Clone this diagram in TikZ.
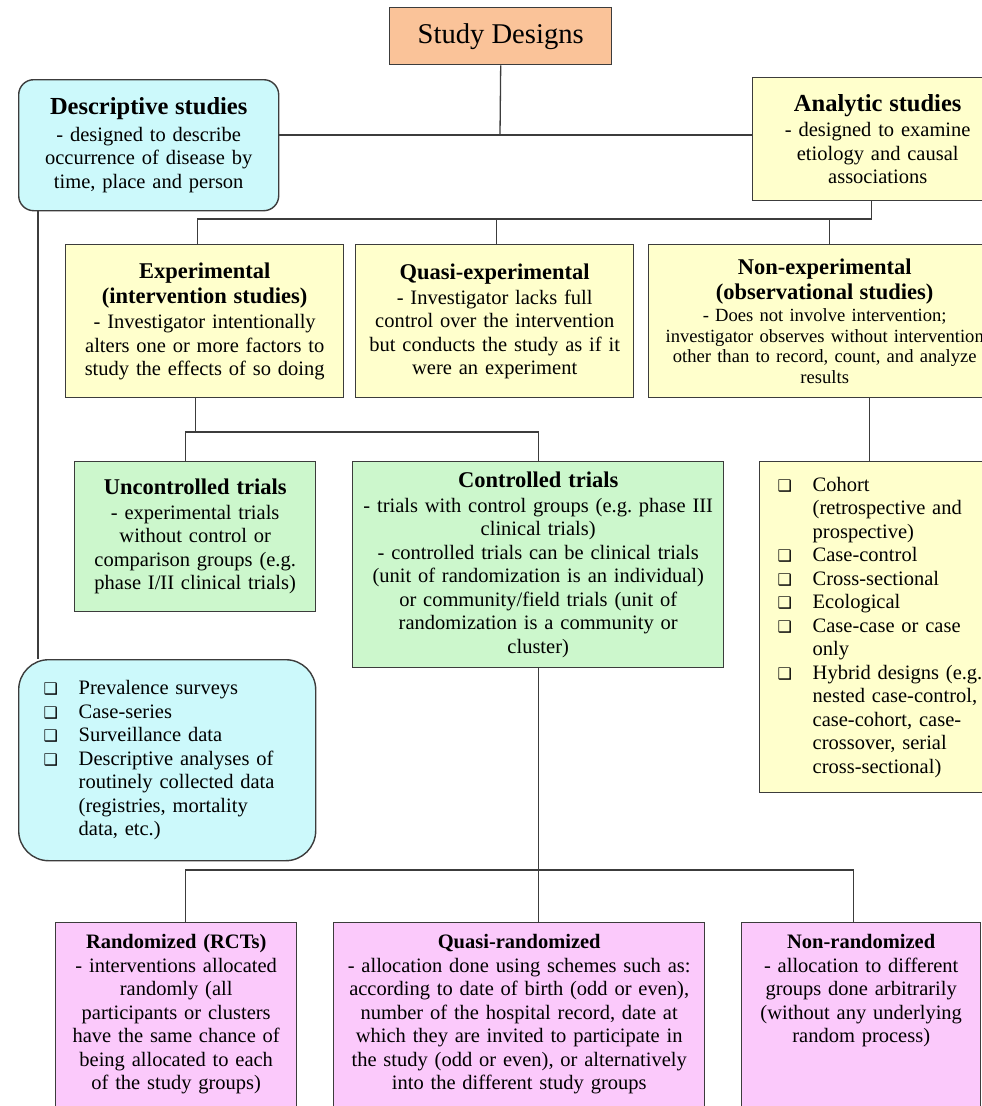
\documentclass[tikz,border=0pt]{standalone}
\usepackage{fontspec}
\setmainfont{Liberation Serif}
\newfontfamily\bulfont{DejaVu Sans}

\definecolor{titleorange}{HTML}{FAC399}
\definecolor{desccyan}{HTML}{CCF9FB}
\definecolor{studyyellow}{HTML}{FFFFCC}
\definecolor{trialgreen}{HTML}{CCF7CC}
\definecolor{allocpink}{HTML}{FBC9FB}
\definecolor{edgegray}{HTML}{3C3C3C}

\newcommand{\bodysize}{\fontsize{20.5}{23.5}\selectfont}
\newcommand{\headsize}{\fontsize{22.5}{25}\selectfont\bfseries}
\newcommand{\topsize}{\fontsize{24.5}{27}\selectfont\bfseries}
\newcommand{\sqitem}{\makebox[35pt][l]{\bulfont\fontsize{16}{16}\selectfont ❑}}
\newcommand{\sqgap}{\hspace*{35pt}}

\begin{document}
\begin{tikzpicture}[
    x=1pt, y=-1pt,
    % Styles
    box/.style={draw=edgegray, line width=1.4pt, inner sep=0pt, align=center, anchor=north west, font=\bodysize},
    listbox/.style={box, align=left, inner xsep=#1},
    allocbox/.style={box, fill=allocpink, inner ysep=12pt, text depth=200pt},
    link/.style={draw=edgegray, line width=1.3pt},
]

\useasboundingbox (0,0) rectangle (982,1106);
\fill[white] (0,0) rectangle (982,1106);
\clip (0,0) rectangle (982,1106);

% Top
\node[box, fill=titleorange, minimum width=222pt, minimum height=57pt, font=\fontsize{28.6}{30}\selectfont] (design) at (389,7) {Study Designs};

\node[box, fill=desccyan, rounded corners=15pt, text width=252pt, minimum width=260pt, minimum height=131pt] (desc) at (18,79)
    {{\topsize Descriptive studies}\\[3pt]- designed to describe\\occurrence of disease by\\time, place and person};

\node[box, fill=studyyellow, text width=242pt, minimum width=250pt, minimum height=123pt] (analytic) at (752,77)
    {{\topsize Analytic studies}\\[2pt]- designed to examine\\etiology and causal\\associations};

% Analytic study types
\node[box, fill=studyyellow, text width=270pt, minimum width=278pt, minimum height=153pt] (exper) at (65,244)
    {{\headsize Experimental\\[2pt](intervention studies)}\\[1.5pt]- Investigator intentionally\\alters one or more factors to\\study the effects of so doing};

\node[box, fill=studyyellow, text width=270pt, minimum width=278pt, minimum height=153pt] (quasi) at (355,244)
    {{\headsize Quasi-experimental}\\[1.5pt]- Investigator lacks full\\control over the intervention\\but conducts the study as if it\\were an experiment};

\node[box, fill=studyyellow, text width=352pt, minimum width=352pt, minimum height=153pt, font=\fontsize{18.6}{20.5}\selectfont] (nonexp) at (648,244)
    {{\headsize Non-experimental\\[4pt](observational studies)}\\[2pt]- Does not involve intervention;\\investigator observes without intervention\\other than to record, count, and analyze\\results};

% Trials
\node[box, fill=trialgreen, text width=235pt, minimum width=241pt, minimum height=150pt] (unctrl) at (74,461)
    {{\headsize Uncontrolled trials}\\[1pt]- experimental trials\\without control or\\comparison groups (e.g.\\phase I/II clinical trials)};

\node[box, fill=trialgreen, text width=365pt, minimum width=371pt, minimum height=206pt] (ctrl) at (352,461)
    {{\headsize Controlled trials}\\[1pt]- trials with control groups (e.g.\ phase III\\clinical trials)\\- controlled trials can be clinical trials\\(unit of randomization is an individual)\\or community/field trials (unit of\\randomization is a community or\\cluster)};

% Lists
\node[listbox=18pt, fill=studyyellow, text width=220pt, minimum height=331pt] (obslist) at (759,461)
    {\sqitem Cohort\\\sqgap(retrospective and\\\sqgap prospective)\\\sqitem Case-control\\\sqitem Cross-sectional\\\sqitem Ecological\\\sqitem Case-case or case\\\sqgap only\\\sqitem Hybrid designs (e.g.\\\sqgap nested case-control,\\\sqgap case-cohort, case-\\\sqgap crossover, serial\\\sqgap cross-sectional)};

\node[listbox=25pt, fill=desccyan, rounded corners=30pt, text width=247pt, minimum height=201pt] (desclist) at (18,659)
    {\sqitem Prevalence surveys\\\sqitem Case-series\\\sqitem Surveillance data\\\sqitem Descriptive analyses of\\\sqgap routinely collected data\\\sqgap(registries, mortality\\\sqgap data, etc.)};

% Allocation
\node[allocbox, text width=235pt, minimum width=241pt] (rct) at (55,922)
    {\textbf{Randomized (RCTs)}\\- interventions allocated\\randomly (all\\participants or clusters\\have the same chance of\\being allocated to each\\of the study groups)};

\node[allocbox, text width=365pt, minimum width=371pt] (quasirand) at (333,922)
    {\textbf{Quasi-randomized}\\- allocation done using schemes such as:\\according to date of birth (odd or even),\\number of the hospital record, date at\\which they are invited to participate in\\the study (odd or even), or alternatively\\into the different study groups};

\node[allocbox, text width=233pt, minimum width=239pt] (nonrand) at (741,922)
    {\textbf{Non-randomized}\\- allocation to different\\groups done arbitrarily\\(without any underlying\\random process)};

% Connectors
\coordinate (busA) at (500,135);
\draw[link] (design.south) -- (busA);
\draw[link] (desc.east |- busA) -- (analytic.west |- busA);

\draw[link] ([xshift=-6pt]analytic.south) |- ([xshift=-7pt,yshift=25pt]exper.north) -- ([xshift=-7pt]exper.north);
\draw[link] ([xshift=2pt]quasi.north) -- ++(0,-25);
\draw[link] ([xshift=5pt]nonexp.north) -- ++(0,-25);

\draw[link] ([xshift=20pt]desc.south west) -- ([xshift=20pt]desclist.north west);

\draw[link] ([xshift=-9pt]exper.south) -- ++(0,35);
\draw[link] ([xshift=-9.5pt]unctrl.north) |- ([yshift=29pt]ctrl.north) -- (ctrl.north);

\draw[link] ([xshift=-18pt]obslist.north) -- ++(0,-64);

\draw[link] (ctrl.south) -- (ctrl.south |- quasirand.north);
\draw[link] ([xshift=9.5pt]rct.north) |- ([xshift=-7.5pt,yshift=52pt]nonrand.north) -- ([xshift=-7.5pt]nonrand.north);

\end{tikzpicture}
\end{document}
